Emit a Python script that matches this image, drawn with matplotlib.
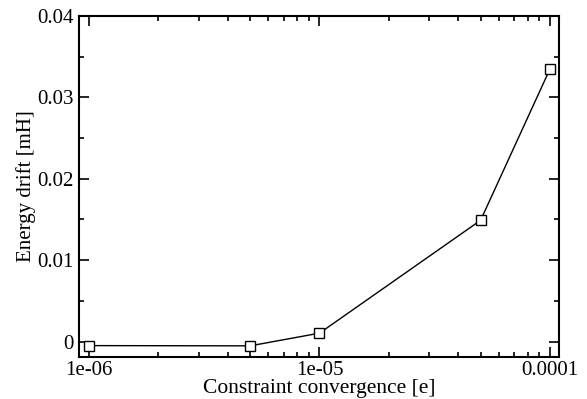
import matplotlib
matplotlib.use("Agg")
import matplotlib.pyplot as plt
from matplotlib.ticker import FixedLocator, FixedFormatter, LogLocator, MultipleLocator, NullFormatter

conv = [1e-6, 5e-6, 1e-5, 5e-5, 1e-4]
drift = [-0.0005, -0.00053, 0.00103, 0.0149, 0.0335]
xtick_vals = [1e-6, 1e-5, 1e-4]
xtick_labels = ["1e-06", "1e-05", "0.0001"]
ytick_vals = [0, 0.01, 0.02, 0.03, 0.04]
ytick_labels = ["0", "0.01", "0.02", "0.03", "0.04"]

plt.rcParams['font.family'] = ['Liberation Serif', 'DejaVu Serif']
fig = plt.figure(figsize=(5.87, 3.99), dpi=100)
ax = fig.add_axes([79/587, 1-357/399, (559-79)/587, (357-16)/399])
ax.plot(conv, drift, color='black', lw=1.0, marker='s', markersize=6.5,
        markerfacecolor='white', markeredgecolor='black', markeredgewidth=1.0)
ax.set_xscale('log')
ax.set_xlim(0.905e-6, 1.094e-4)
ax.set_ylim(-0.0019, 0.04)
ax.xaxis.set_major_locator(FixedLocator(xtick_vals))
ax.xaxis.set_major_formatter(FixedFormatter(xtick_labels))
ax.xaxis.set_minor_locator(LogLocator(base=10, subs=range(2, 10), numticks=20))
ax.xaxis.set_minor_formatter(NullFormatter())
ax.yaxis.set_major_locator(FixedLocator(ytick_vals))
ax.yaxis.set_major_formatter(FixedFormatter(ytick_labels))
ax.yaxis.set_minor_locator(MultipleLocator(0.005))
ax.tick_params(which='both', direction='in', top=True, right=True, labelsize=15, width=1.2)
ax.tick_params(axis='x', pad=3)
ax.tick_params(axis='y', pad=4)
ax.tick_params(which='major', length=7)
ax.tick_params(which='minor', length=3.5)
for s in ax.spines.values():
    s.set_linewidth(1.5)
ax.set_xlabel("Constraint convergence [e]", fontsize=15.5, labelpad=-1)
ax.set_ylabel("Energy drift [mH]", fontsize=15, labelpad=0.5)
fig.savefig("out.png", dpi=100)
